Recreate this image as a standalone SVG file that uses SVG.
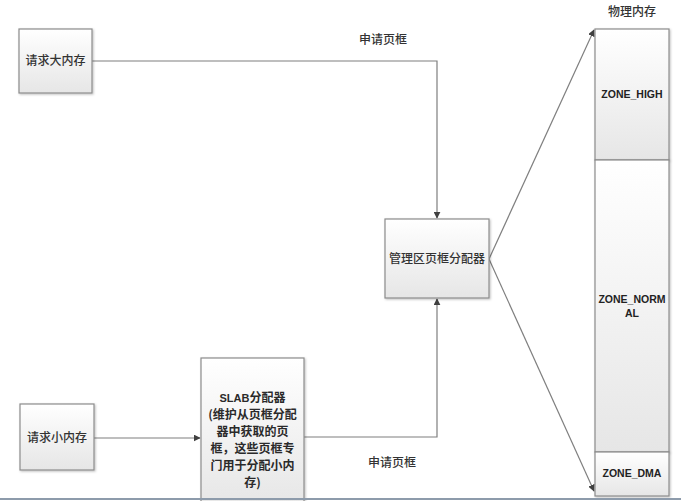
<svg xmlns="http://www.w3.org/2000/svg" width="681" height="501" viewBox="0 0 681 501">
<defs>
<linearGradient id="g" x1="0" y1="0" x2="0" y2="1">
<stop offset="0" stop-color="#ffffff"/>
<stop offset="1" stop-color="#e6e6e6"/>
</linearGradient>
<marker id="ah" viewBox="0 0 10 10" refX="9" refY="5" markerWidth="7" markerHeight="7" orient="auto" markerUnits="userSpaceOnUse">
<path d="M0,0 L10,5 L0,10 z" fill="#404040"/>
</marker>
<filter id="sh" x="-10%" y="-10%" width="130%" height="130%">
<feDropShadow dx="1" dy="1" stdDeviation="0.8" flood-color="#000" flood-opacity="0.25"/>
</filter>
</defs>
<style>
.box{fill:url(#g);stroke:#8c8c8c;stroke-width:1.2;filter:url(#sh)}
.cn{font-family:"Noto Sans CJK SC","Noto Sans",sans-serif;font-size:12px;fill:#333;text-anchor:middle;font-weight:500}
.b{font-weight:700;fill:#2a2a2a}
.en{font-family:"Liberation Sans",Arial,sans-serif;font-size:10.5px;font-weight:bold;fill:#222;text-anchor:middle}
.ln{fill:none;stroke:#7f7f7f;stroke-width:1.2}
</style>
<rect width="681" height="501" fill="#ffffff"/>
<g id="connectors">
<path class="ln" d="M92,61 H437 V218" marker-end="url(#ah)"/>
<path class="ln" d="M94,438 H200" marker-end="url(#ah)"/>
<path class="ln" d="M304,437 H437 V299" marker-end="url(#ah)"/>
<path class="ln" d="M489,259 L594,30" marker-end="url(#ah)"/>
<path class="ln" d="M489,259 L594,491" marker-end="url(#ah)"/>
<text class="cn" x="383" y="44">申请页框</text>
<text class="cn" x="392" y="467">申请页框</text>
</g>
<g id="big-req">
<rect class="box" x="19" y="29" width="73" height="64"/>
<text class="cn" x="55.5" y="65">请求大内存</text>
</g>
<g id="small-req">
<rect class="box" x="20" y="404" width="74" height="66"/>
<text class="cn" x="57" y="442">请求小内存</text>
</g>
<g id="zone-alloc">
<rect class="box" x="385" y="219" width="104" height="79"/>
<text class="cn" x="437" y="263">管理区页框分配器</text>
</g>
<g id="slab">
<rect class="box" x="201" y="358" width="103" height="150"/>
<text class="cn b" x="252.5" y="402"><tspan font-family="Liberation Sans,sans-serif" font-weight="bold" font-size="11">SLAB</tspan>分配器</text>
<text class="cn b" x="252.5" y="419">(维护从页框分配</text>
<text class="cn b" x="252.5" y="436">器中获取的页</text>
<text class="cn b" x="252.5" y="453">框，这些页框专</text>
<text class="cn b" x="252.5" y="470">门用于分配小内</text>
<text class="cn b" x="252.5" y="487">存)</text>
</g>
<g id="memory">
<text class="cn" x="632" y="16">物理内存</text>
<g id="zone-high">
<rect class="box" x="595" y="29" width="74" height="131"/>
<text class="en" x="632" y="98">ZONE_HIGH</text>
</g>
<g id="zone-normal">
<rect class="box" x="595" y="160" width="74" height="292"/>
<text class="en" x="632" y="303">ZONE_NORM</text>
<text class="en" x="632" y="317">AL</text>
</g>
<g id="zone-dma">
<rect class="box" x="595" y="452" width="74" height="44"/>
<text class="en" x="632" y="477">ZONE_DMA</text>
</g>
</g>
<line x1="0" y1="499" x2="681" y2="499" stroke="#8d9bab" stroke-width="2"/>
</svg>
